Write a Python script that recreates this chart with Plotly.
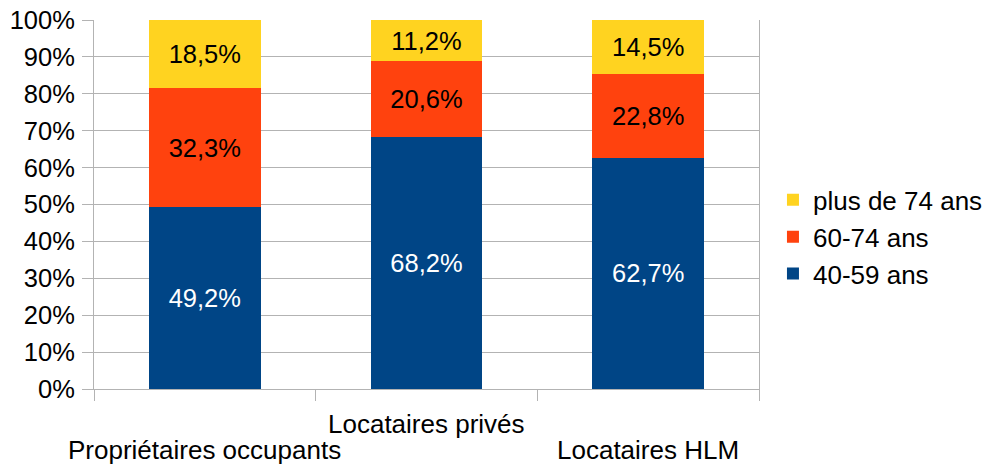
import plotly.graph_objects as go

categories = ["Propriétaires occupants", "Locataires privés", "Locataires HLM"]
series_names = ["40-59 ans", "60-74 ans", "plus de 74 ans"]
v_40_59 = [49.2, 68.2, 62.7]
v_60_74 = [32.3, 20.6, 22.8]
v_74_plus = [18.5, 11.2, 14.5]
y_ticks = [0, 10, 20, 30, 40, 50, 60, 70, 80, 90, 100]

colors = ["#004586", "#ff420e", "#ffd320"]
text_colors = ["#ffffff", "#000000", "#000000"]
FONT = "Liberation Sans, Arial, sans-serif"
FS = 25.5

def fmt(v):
    return f"{v:.1f}%".replace(".", ",")

fig = go.Figure()
for name, vals, c, tc in zip(series_names, [v_40_59, v_60_74, v_74_plus], colors, text_colors):
    fig.add_trace(go.Bar(
        x=categories, y=vals, name=name,
        marker=dict(color=c, line=dict(width=0)),
        text=[fmt(v) for v in vals],
        textposition="inside", insidetextanchor="middle",
        textangle=0, constraintext="none",
        textfont=dict(color=tc, size=FS, family=FONT),
        hoverinfo="skip",
    ))

grid = "#b3b3b3"
fig.update_layout(
    barmode="stack",
    bargap=0.495,
    width=984, height=465,
    margin=dict(l=94, r=225, t=20, b=76, autoexpand=False),
    paper_bgcolor="white", plot_bgcolor="white",
    font=dict(family=FONT, size=FS, color="#000000"),
    legend=dict(
        x=1.021, y=0.412, xanchor="left", yanchor="middle",
        traceorder="reversed",
        font=dict(size=26, family=FONT),
        tracegroupgap=0, itemsizing="constant",
    ),
    xaxis=dict(
        type="category", automargin=False,
        range=[-0.5, len(categories) - 0.5], autorange=False,
        showticklabels=False,
        ticks="outside", tickson="boundaries", ticklen=11,
        tickcolor=grid, tickwidth=1,
        showline=True, linecolor=grid, linewidth=1,
        showgrid=False, zeroline=False,
    ),
    yaxis=dict(
        range=[0, 100], autorange=False, automargin=False,
        tickvals=y_ticks,
        ticktext=[f"{t}%" for t in y_ticks],
        ticklabeloverflow="allow", ticklabelstandoff=2,
        ticks="outside", ticklen=11, tickcolor=grid, tickwidth=1,
        showline=True, linecolor=grid, linewidth=1, mirror=True,
        showgrid=True, gridcolor=grid, gridwidth=1,
        zeroline=False,
        tickfont=dict(size=FS, family=FONT),
    ),
)

label_y = [-0.165, -0.0949, -0.165]
for cat, ly in zip(categories, label_y):
    fig.add_annotation(
        x=cat, y=ly, xref="x", yref="paper",
        text=cat, showarrow=False,
        xanchor="center", yanchor="middle",
        font=dict(size=26, family=FONT, color="#000000"),
    )

fig.write_html(
    "out.html",
    config={"displayModeBar": False},
    post_script="document.body.style.margin='0';",
)
